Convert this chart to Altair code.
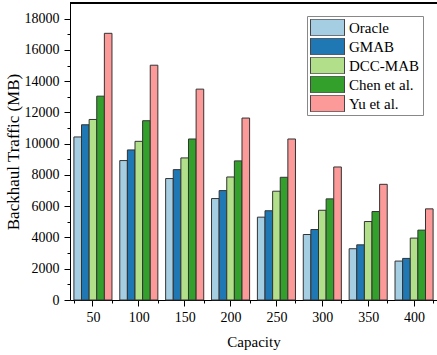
import altair as alt
import pandas as pd

capacity = [50, 100, 150, 200, 250, 300, 350, 400]
methods = ["Oracle", "GMAB", "DCC-MAB", "Chen et al.", "Yu et al."]
oracle = [10430, 8920, 7770, 6490, 5300, 4190, 3280, 2490]
gmab = [11210, 9600, 8340, 7000, 5710, 4510, 3530, 2660]
dcc_mab = [11550, 10150, 9090, 7870, 6960, 5740, 5020, 3960]
chen = [13040, 11470, 10300, 8900, 7850, 6470, 5660, 4470]
yu = [17060, 15020, 13490, 11640, 10300, 8510, 7400, 5830]
colors = ["#a6cee3", "#1f78b4", "#b2df8a", "#33a02c", "#fb9a99"]

series = [oracle, gmab, dcc_mab, chen, yu]
rows = []
for m, vals in zip(methods, series):
    for c, v in zip(capacity, vals):
        rows.append({"Capacity": c, "Method": m, "Value": v})
df = pd.DataFrame(rows)

W, H = 367, 297
FONT = "Liberation Serif"

base = alt.Chart(df)

bars = base.mark_bar(stroke="#333333", strokeWidth=1).encode(
    x=alt.X(
        "Capacity:O",
        sort=capacity,
        scale=alt.Scale(paddingInner=0.17, paddingOuter=0.085),
        axis=alt.Axis(
            title="Capacity",
            tickBand="extent",
            tickSize=3,
            labelAngle=0,
            labelPadding=7,
            titlePadding=10,
            labelFont=FONT,
            titleFont=FONT,
            labelFontSize=14,
            titleFontSize=15,
        ),
    ),
    xOffset=alt.XOffset(
        "Method:N", sort=methods, scale=alt.Scale(paddingInner=0, paddingOuter=0)
    ),
    y=alt.Y(
        "Value:Q",
        scale=alt.Scale(domain=[0, 19000], nice=False),
        axis=alt.Axis(
            title="Backhaul Traffic (MB)",
            values=list(range(0, 19000, 1000)),
            labelExpr="datum.value % 2000 === 0 ? datum.label : ''",
            format="d",
            tickSize={"condition": {"test": "datum.value % 2000 === 0", "value": 6}, "value": 3},
            labelPadding=5,
            titlePadding=2,
            labelFont=FONT,
            titleFont=FONT,
            labelFontSize=14,
            titleFontSize=17,
        ),
    ),
    color=alt.Color(
        "Method:N",
        sort=methods,
        scale=alt.Scale(domain=methods, range=colors),
        legend=alt.Legend(
            title=None,
            orient="none",
            legendX=237,
            legendY=13,
            direction="vertical",
            symbolType="M-1,-0.49H1V0.49H-1Z",
            symbolSize=1156,
            symbolStrokeColor="#444444",
            symbolStrokeWidth=1,
            symbolOpacity=1,
            labelFont=FONT,
            labelFontSize=15,
            labelColor="black",
            labelOffset=4,
            clipHeight=17,
            rowPadding=2,
            padding=3,
            strokeColor="#888888",
            fillColor="white",
        ),
    ),
)

major = base.mark_rule(opacity=0).encode(
    x=alt.X(
        "Capacity:O",
        sort=capacity,
        axis=alt.Axis(
            orient="bottom",
            tickSize=6,
            labels=False,
            domain=False,
            title=None,
        ),
    )
)

top_line = base.mark_rule(color="black", strokeWidth=1).encode(
    y=alt.value(0), x=alt.value(0), x2=alt.value(W)
)

chart = (
    alt.layer(bars, major, top_line)
    .resolve_axis(x="independent")
    .properties(
        width=W,
        height=H,
        autosize=alt.AutoSizeParams(type="none"),
        padding={"left": 70, "top": 3, "right": 0, "bottom": 55},
        background="white",
    )
    .configure(font=FONT)
    .configure_view(stroke=None)
    .configure_axis(
        labelFont=FONT,
        titleFont=FONT,
        labelColor="black",
        titleColor="black",
        titleFontWeight="normal",
        domainColor="black",
        domainWidth=1,
        tickColor="black",
        tickWidth=1,
        grid=False,
    )
)

chart.save("out.html", embed_options={"renderer": "svg", "actions": False})
